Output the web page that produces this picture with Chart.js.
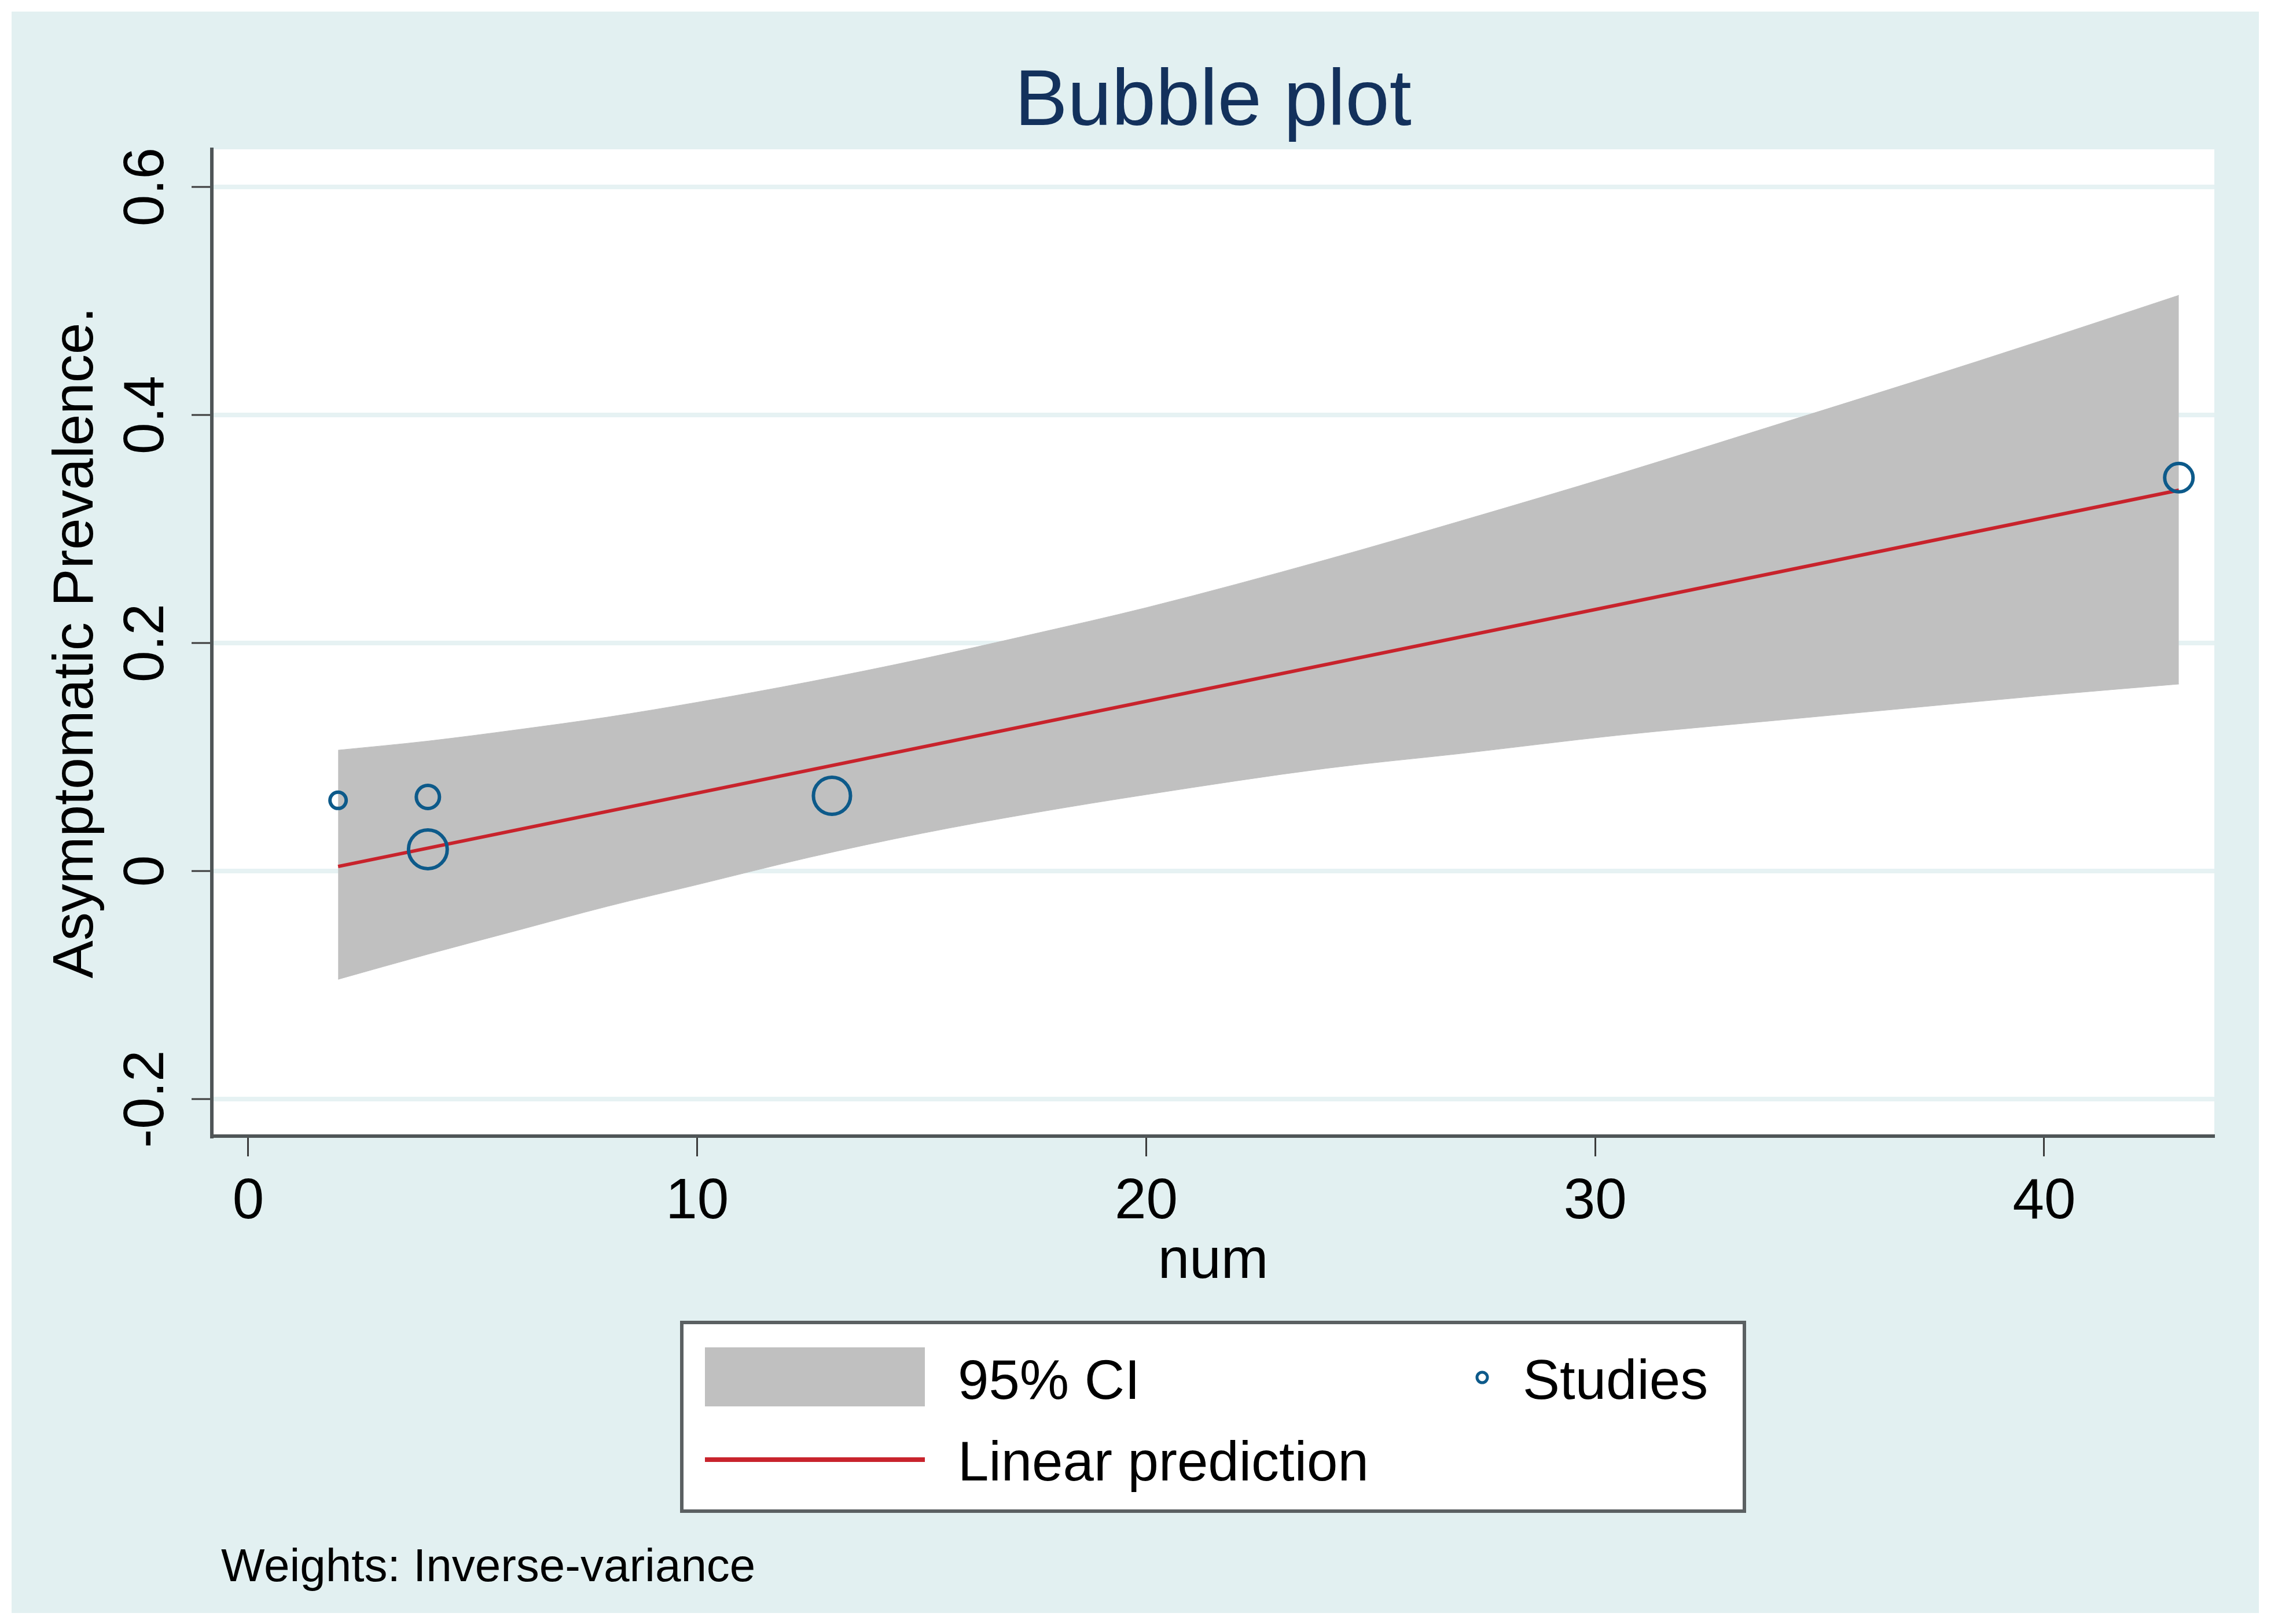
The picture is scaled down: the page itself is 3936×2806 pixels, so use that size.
<!DOCTYPE html>
<html>
<head>
<meta charset="utf-8">
<title>Bubble plot</title>
<script src="https://cdn.jsdelivr.net/npm/chart.js@4.4.1/dist/chart.umd.min.js"></script>
<style>
html, body { margin: 0; padding: 0; background: #fff; overflow: hidden; }
#wrap { width: 3936px; height: 2806px; }
</style>
</head>
<body>
<div id="wrap"><canvas id="bubbleChart" width="3936" height="2806"></canvas></div>
<script>
// studies: num, asymptomatic prevalence, inverse-variance weight (%)
var studyNum = [2, 4, 4, 13, 43];
var studyPrev = [0.062, 0.065, 0.019, 0.066, 0.345];
var studyWeight = [7.0, 12.8, 32.2, 29.7, 18.3];

// linear prediction
var predNum = [2, 43];
var predPrev = [0.004, 0.334];

// 95% CI band
var ciNum = [2, 4, 6, 8, 10, 12.5, 15, 17.5, 20, 24, 27, 30.5, 34, 37, 40, 43];
var ciLower = [-0.095, -0.073, -0.052, -0.031, -0.012, 0.012, 0.033, 0.051, 0.067, 0.090, 0.103, 0.119, 0.132, 0.143, 0.154, 0.164];
var ciUpper = [0.106, 0.114, 0.124, 0.135, 0.148, 0.166, 0.186, 0.208, 0.231, 0.273, 0.307, 0.348, 0.391, 0.428, 0.466, 0.505];

var xTicks = [0, 10, 20, 30, 40];
var yTicks = [-0.2, 0, 0.2, 0.4, 0.6];
var yTickLabels = ['-0.2', '0', '0.2', '0.4', '0.6'];

var FONT = '"Liberation Sans", Arial, sans-serif';
var bandColor = '#c0c0c0';
var lineColor = '#c8232c';
var markerColor = '#0d5a8a';
var axisColor = '#4f5557';
var gridColor = '#e6f2f3';
var tickColor = '#3c3c3c';

function pts(xs, ys) {
    return xs.map(function (x, i) { return { x: x, y: ys[i] }; });
}

var stataBackground = {
    id: 'stataBackground',
    beforeDraw: function (chart) {
        var ctx = chart.ctx, a = chart.chartArea;
        ctx.save();
        ctx.fillStyle = '#ffffff';
        ctx.fillRect(0, 0, chart.width, chart.height);
        ctx.fillStyle = '#e2f0f1';
        ctx.fillRect(20, 20, chart.width - 53, chart.height - 39);
        ctx.fillStyle = '#ffffff';
        ctx.fillRect(a.left, a.top, a.right - a.left, a.bottom - a.top);
        ctx.restore();
    }
};

// Stata style legend box + weights note
var stataLegend = {
    id: 'stataLegend',
    afterDraw: function (chart) {
        var ctx = chart.ctx;
        ctx.save();
        ctx.fillStyle = '#ffffff';
        ctx.fillRect(1178, 2285, 1836, 326);
        ctx.strokeStyle = '#5b6062';
        ctx.lineWidth = 6;
        ctx.strokeRect(1178, 2285, 1836, 326);

        ctx.fillStyle = bandColor;
        ctx.fillRect(1218, 2328, 380, 102);

        ctx.strokeStyle = lineColor;
        ctx.lineWidth = 8;
        ctx.beginPath();
        ctx.moveTo(1218, 2522);
        ctx.lineTo(1598, 2522);
        ctx.stroke();

        ctx.strokeStyle = markerColor;
        ctx.lineWidth = 5;
        ctx.beginPath();
        ctx.arc(2561, 2380, 9, 0, Math.PI * 2);
        ctx.stroke();

        ctx.fillStyle = '#000000';
        ctx.textBaseline = 'alphabetic';
        ctx.textAlign = 'left';
        ctx.font = '96px ' + FONT;
        ctx.fillText('95% CI', 1655, 2417);
        ctx.fillText('Studies', 2631, 2417);
        ctx.fillText('Linear prediction', 1655, 2558);

        ctx.font = '80px ' + FONT;
        ctx.fillText('Weights: Inverse-variance', 382, 2732);
        ctx.restore();
    }
};

var ctx = document.getElementById('bubbleChart').getContext('2d');
var bubbleChart = new Chart(ctx, {
    type: 'scatter',
    data: {
        datasets: [{
            label: 'Studies',
            type: 'scatter',
            data: pts(studyNum, studyPrev),
            backgroundColor: 'rgba(0,0,0,0)',
            borderColor: markerColor,
            borderWidth: 6,
            pointRadius: function (c) { return 6.43 * Math.sqrt(studyWeight[c.dataIndex]) - 3; },
            clip: false
        }, {
            label: 'Linear prediction',
            type: 'line',
            data: pts(predNum, predPrev),
            borderColor: lineColor,
            borderWidth: 6,
            pointRadius: 0,
            fill: false
        }, {
            label: '95% CI',
            type: 'line',
            data: pts(ciNum, ciUpper),
            borderColor: bandColor,
            borderWidth: 1,
            backgroundColor: bandColor,
            pointRadius: 0,
            cubicInterpolationMode: 'monotone',
            fill: '+1'
        }, {
            label: 'lower',
            type: 'line',
            data: pts(ciNum, ciLower),
            borderColor: bandColor,
            borderWidth: 1,
            pointRadius: 0,
            cubicInterpolationMode: 'monotone',
            fill: false
        }]
    },
    options: {
        responsive: false,
        animation: false,
        events: [],
        layout: { padding: { top: 110, right: 110, bottom: 543, left: 0 } },
        plugins: {
            legend: { display: false },
            tooltip: { enabled: false },
            title: {
                display: true,
                text: 'Bubble plot',
                color: '#13315c',
                fullSize: false,
                font: { family: FONT, size: 137, weight: 'normal', lineHeight: 1.0 },
                padding: { top: 0, bottom: 11 }
            }
        },
        scales: {
            x: {
                type: 'linear',
                min: -0.812,
                max: 43.79,
                bounds: 'data',
                afterBuildTicks: function (s) { s.ticks = xTicks.map(function (v) { return { value: v }; }); },
                afterFit: function (s) { s.height = 300; },
                border: { display: true, color: axisColor, width: 6 },
                grid: { drawOnChartArea: false, drawTicks: true, tickLength: 35, tickColor: tickColor, tickWidth: 3 },
                ticks: {
                    padding: 21,
                    autoSkip: false,
                    maxRotation: 0,
                    color: '#000000',
                    font: { family: FONT, size: 98, lineHeight: 1.2 }
                },
                title: {
                    display: true,
                    text: 'num',
                    color: '#000000',
                    font: { family: FONT, size: 98, lineHeight: 1.2 },
                    padding: { top: 0, bottom: 23 }
                }
            },
            y: {
                type: 'linear',
                min: -0.2325,
                max: 0.633,
                bounds: 'data',
                afterBuildTicks: function (s) { s.ticks = yTicks.map(function (v) { return { value: v }; }); },
                afterFit: function (s) { s.width = 366; },
                border: { display: true, color: axisColor, width: 6 },
                grid: { color: gridColor, lineWidth: 8, drawTicks: true, tickLength: 35, tickColor: tickColor, tickWidth: 3 },
                ticks: {
                    minRotation: 90,
                    maxRotation: 90,
                    crossAlign: 'center',
                    padding: -8,
                    autoSkip: false,
                    color: '#000000',
                    font: { family: FONT, size: 98, lineHeight: 1.2 },
                    callback: function (v) { return yTickLabels[yTicks.indexOf(v)]; }
                },
                title: {
                    display: true,
                    text: 'Asymptomatic Prevalence.',
                    color: '#000000',
                    font: { family: FONT, size: 98, lineHeight: 1.2 },
                    padding: { top: 74, bottom: 0 }
                }
            }
        }
    },
    plugins: [stataBackground, stataLegend]
});
</script>
</body>
</html>
